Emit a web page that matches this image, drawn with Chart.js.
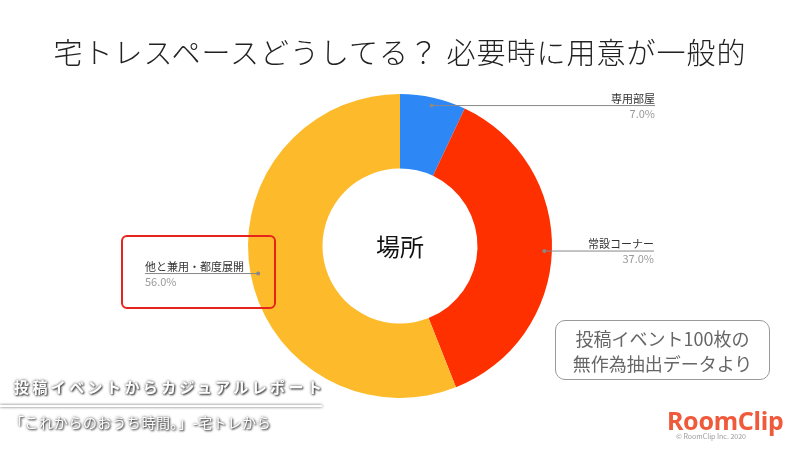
<!DOCTYPE html>
<html>
<head>
<meta charset="utf-8">
<script src="https://cdn.jsdelivr.net/npm/chart.js@4"></script>
<style>
  body { margin: 0; background: #fff; font-family: "Noto Sans CJK JP", "Noto Sans", sans-serif; }
  #wrap { position: relative; width: 800px; height: 450px; overflow: hidden; }
  #chart { position: absolute; left: 0; top: 0; }
  .title { position: absolute; left: 0; width: 800px; top: 30px; text-align: center; font-size: 29px; font-weight: 300; color: #222; letter-spacing: 1px; }
  .hl { position: absolute; left: 121px; top: 235px; width: 151px; height: 70px; border: 2px solid #e8231b; border-radius: 6px; }
  .note { position: absolute; left: 555px; top: 320px; width: 215px; height: 60px; border: 1px solid #999; border-radius: 10px; text-align: center; font-size: 18px; line-height: 25px; color: #666; padding-top: 5px; box-sizing: border-box; }
  .foot1 { position: absolute; left: 14px; top: 376px; font-size: 15px; font-weight: bold; color: #fff; letter-spacing: 3.4px; text-shadow: 0 0 3px #444, 1px 1px 2px #333; }
  .rule { position: absolute; left: 0; top: 405px; width: 322px; height: 2px; background: #fff; box-shadow: 0 0 3px #555; }
  .foot2 { position: absolute; left: 10px; top: 412px; font-size: 14px; color: #fff; letter-spacing: 0.6px; text-shadow: 0 0 3px #444, 1px 1px 2px #333; }
  .logo { position: absolute; left: 667px; top: 403px; font-size: 25px; font-weight: bold; color: #ef5a3c; font-family: "Noto Sans", sans-serif; letter-spacing: -0.3px; }
  .copy { position: absolute; left: 676px; top: 431px; font-size: 7px; color: #999; }
</style>
</head>
<body>
<div id="wrap">
  <canvas id="chart" width="800" height="450"></canvas>
  <div class="title">宅トレスペースどうしてる？ 必要時に用意が一般的</div>
  <div class="hl"></div>
  <div class="note">投稿イベント100枚の<br>無作為抽出データより</div>
  <div class="foot1">投稿イベントからカジュアルレポート</div>
  <div class="rule"></div>
  <div class="foot2">「これからのおうち時間。」-宅トレから</div>
  <div class="logo">RoomClip</div>
  <div class="copy">© RoomClip Inc. 2020</div>
</div>
<script>
const places = ['専用部屋', '常設コーナー', '他と兼用・都度展開'];
const shares = [7.0, 37.0, 56.0];
const sliceColors = ['#2d88f6', '#ff3000', '#fdbb2b'];
const centerLabel = '場所';

// where each callout text ends (right side) or starts (left side)
const callouts = [
  { side: 'right', x: 655 },
  { side: 'right', x: 654 },
  { side: 'left', x: 145 }
];

const calloutPlugin = {
  id: 'callouts',
  afterDraw(chart) {
    const ctx = chart.ctx;
    const meta = chart.getDatasetMeta(0);
    meta.data.forEach((arc, i) => {
      const mid = (arc.startAngle + arc.endAngle) / 2;
      const r = arc.outerRadius * 0.95;
      const px = arc.x + Math.cos(mid) * r;
      const py = arc.y + Math.sin(mid) * r;
      const c = callouts[i];
      ctx.save();
      ctx.strokeStyle = '#888';
      ctx.lineWidth = 1;
      ctx.beginPath();
      ctx.moveTo(px, py + 0.5);
      ctx.lineTo(c.x, py + 0.5);
      ctx.stroke();
      ctx.fillStyle = '#888';
      ctx.beginPath();
      ctx.arc(px, py + 0.5, 2, 0, Math.PI * 2);
      ctx.fill();
      ctx.textAlign = c.side === 'right' ? 'right' : 'left';
      ctx.font = '11px "Noto Sans CJK JP", sans-serif';
      ctx.fillStyle = '#333';
      ctx.textBaseline = 'bottom';
      ctx.fillText(places[i], c.x, py - 1);
      ctx.fillStyle = '#9a9a9a';
      ctx.textBaseline = 'top';
      ctx.fillText(shares[i].toFixed(1) + '%', c.x, py + 3);
      ctx.restore();
    });
    const a = meta.data[0];
    ctx.save();
    ctx.font = '24px "Noto Sans CJK JP", sans-serif';
    ctx.fillStyle = '#111';
    ctx.textAlign = 'center';
    ctx.textBaseline = 'middle';
    ctx.fillText(centerLabel, a.x, a.y + 1);
    ctx.restore();
  }
};

new Chart(document.getElementById('chart'), {
  type: 'doughnut',
  data: {
    labels: places,
    datasets: [{
      data: shares,
      backgroundColor: sliceColors,
      borderWidth: 0
    }]
  },
  options: {
    responsive: false,
    animation: false,
    cutout: '51%',
    layout: { padding: { top: 94, bottom: 52 } },
    plugins: {
      legend: { display: false },
      tooltip: { enabled: false }
    }
  },
  plugins: [calloutPlugin]
});
</script>
</body>
</html>
